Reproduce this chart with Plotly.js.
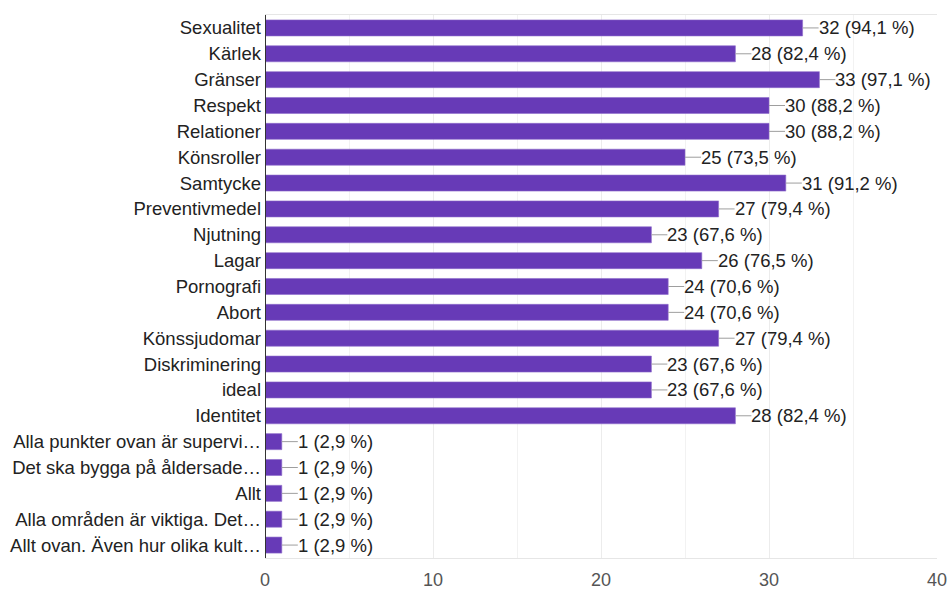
<!DOCTYPE html>
<html>
<head>
<meta charset="utf-8">
<script src="https://cdn.plot.ly/plotly-3.0.1.min.js"></script>
<style>html,body{margin:0;padding:0;background:#fff;}#chart{width:950px;height:589px;}</style>
</head>
<body>
<div id="chart"></div>
<script>
const categories = [
  "Sexualitet", "Kärlek", "Gränser", "Respekt", "Relationer", "Könsroller", "Samtycke",
  "Preventivmedel", "Njutning", "Lagar", "Pornografi", "Abort", "Könssjudomar",
  "Diskriminering", "ideal", "Identitet",
  "Alla punkter ovan är supervi…", "Det ska bygga på åldersade…", "Allt",
  "Alla områden är viktiga. Det…", "Allt ovan. Även hur olika kult…"
];
const counts = [32, 28, 33, 30, 30, 25, 31, 27, 23, 26, 24, 24, 27, 23, 23, 28, 1, 1, 1, 1, 1];
const percents = ["94,1", "82,4", "97,1", "88,2", "88,2", "73,5", "91,2", "79,4", "67,6", "76,5",
  "70,6", "70,6", "79,4", "67,6", "67,6", "82,4", "2,9", "2,9", "2,9", "2,9", "2,9"];
const xTicks = [0, 10, 20, 30, 40];

const FONT = "'Liberation Sans', Arial, sans-serif";

const trace = {
  type: "bar",
  orientation: "h",
  x: counts,
  y: categories,
  marker: { color: "#673ab7", line: { color: "#8e6bcb", width: 0.6 } },
  width: 0.62,
  hoverinfo: "skip"
};

const annotations = counts.map((v, i) => ({
  x: v, y: categories[i], xref: "x", yref: "y",
  text: v + " (" + percents[i] + " %)",
  showarrow: true, arrowhead: 0, arrowwidth: 1, arrowcolor: "#9e9e9e",
  ax: 16, ay: 0, xanchor: "left", yanchor: "middle",
  borderpad: 0, borderwidth: 0,
  font: { family: FONT, size: 18.5, color: "#222" }
}));

const layout = {
  width: 950, height: 589,
  margin: { l: 265, r: 13, t: 15, b: 31 },
  paper_bgcolor: "#fff", plot_bgcolor: "#fff",
  showlegend: false,
  bargap: 0.38,
  xaxis: {
    range: [0, 40],
    tickvals: xTicks,
    ticktext: xTicks.map(String),
    showgrid: true, gridcolor: "#ececec", gridwidth: 1,
    minor: { dtick: 5, tick0: 0, showgrid: true, gridcolor: "#f2f2f2", gridwidth: 1 },
    zeroline: false,
    showline: true, linecolor: "#e6e6e6", mirror: true,
    ticks: "", ticklabelstandoff: 5,
    tickfont: { family: FONT, size: 18, color: "#555" },
    fixedrange: true
  },
  yaxis: {
    type: "category",
    autorange: "reversed",
    categoryorder: "array", categoryarray: categories,
    showgrid: false, zeroline: false,
    showline: false,
    ticks: "", ticklabelstandoff: 3,
    tickfont: { family: FONT, size: 18.5, color: "#222" },
    fixedrange: true
  },
  shapes: [{
    type: "line", xref: "x", yref: "paper", x0: 0, x1: 0, y0: 0, y1: 1,
    line: { color: "#333", width: 2 }
  }],
  annotations: annotations
};

Plotly.newPlot("chart", [trace], layout, { displayModeBar: false, staticPlot: true });
</script>
</body>
</html>
